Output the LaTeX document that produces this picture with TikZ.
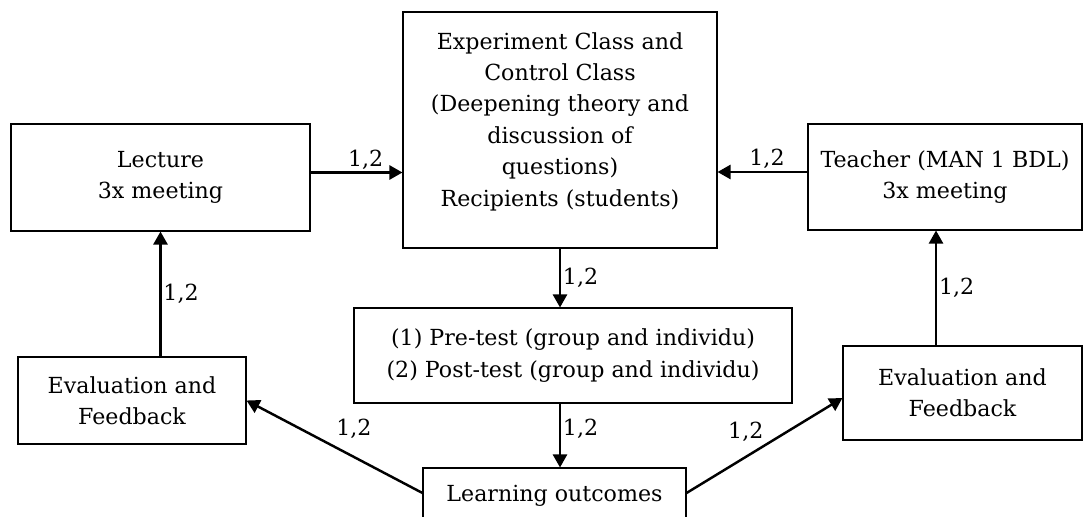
\documentclass[tikz,border=0pt]{standalone}
\usepackage{fontspec}
\setmainfont{DejaVu Serif}
\usetikzlibrary{arrows.meta}
\begin{document}
\begin{tikzpicture}
[box/.style={draw, line width=.6pt, align=center, inner sep=0pt, font=\fontsize{12.6}{17.9}\selectfont},
 lbl/.style={font=\fontsize{12.6}{15}\selectfont, inner sep=1pt},
 >={Triangle[length=2.6mm,width=2.8mm]}, line width=1.4pt]
\useasboundingbox (0,0) rectangle (21.66,-10.34);
\node (Lec) at (3.21,-3.55) [box, minimum width=5.98cm, minimum height=2.14cm] {Lecture\\3x meeting};
\node (Cls) at (11.2,-2.6) [box, minimum width=6.28cm, minimum height=4.72cm] {Experiment Class and\\Control Class\\(Deepening theory and\\discussion of\\questions)\\Recipients (students)\\[-.2cm]};
\node (Tch) at (18.9,-3.54) [box, minimum width=5.48cm, minimum height=2.12cm] {Teacher (MAN 1 BDL)\\3x meeting};
\node (Tst) at (11.46,-7.11) [box, minimum width=8.76cm, minimum height=1.9cm] {(1) Pre-test (group and individu)\\(2) Post-test (group and individu)};
\node (Out) at (11.09,-9.92) [box, minimum width=5.26cm, minimum height=1.12cm] {Learning outcomes};
\node (EvL) at (2.64,-8.01) [box, minimum width=4.56cm, minimum height=1.74cm] {Evaluation and\\Feedback};
\node (EvR) at (19.25,-7.86) [box, minimum width=4.78cm, minimum height=1.88cm] {Evaluation and\\Feedback};

\draw[->] ([yshift=.1cm]Lec.east) -- ([yshift=.1cm]Lec.east -| Cls.west) node[lbl, pos=.6, above] {1,2};
\draw[->] ([yshift=.1cm]Tch.west) -- ([yshift=.1cm]Tch.west -| Cls.east) node[lbl, pos=.45, above] {1,2};
\draw[->] (EvL.north -| Lec.south) -- (Lec.south) node[lbl, pos=.5, right] {1,2};
\draw[->] ([xshift=-.18cm]EvR.north -| Tch.south) -- ([xshift=-.18cm]Tch.south) node[lbl, pos=.5, right] {1,2};
\draw[->] (Cls.south) -- (Cls.south |- Tst.north) node[lbl, pos=.5, right] {1,2};
\draw[->] (Tst.south -| Cls.south) -- (Out.north -| Cls.south) node[lbl, pos=.4, right] {1,2};
\draw[->] ([yshift=.06cm]Out.west) -- (EvL.east) node[lbl, pos=.39, above=3mm] {1,2};
\draw[->] ([yshift=.06cm]Out.east) -- ([yshift=-.1cm]EvR.west) node[lbl, pos=.38, above=2.5mm] {1,2};
\end{tikzpicture}
\end{document}
